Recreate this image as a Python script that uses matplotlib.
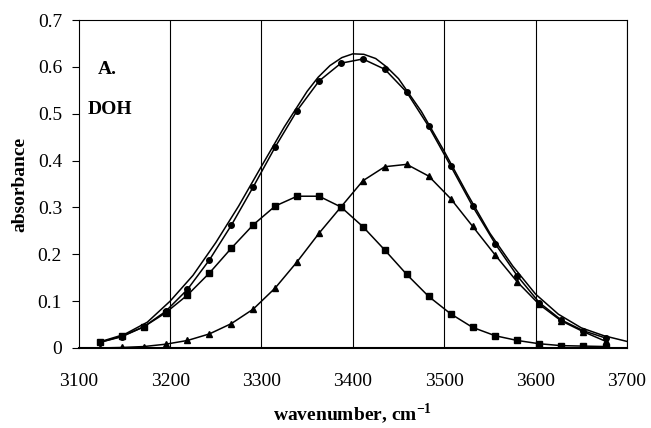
import matplotlib
matplotlib.use("Agg")
import matplotlib.pyplot as plt

plt.rcParams['font.family'] = ['Liberation Serif', 'DejaVu Serif']
plt.rcParams['mathtext.fontset'] = 'custom'
plt.rcParams['mathtext.rm'] = 'Liberation Serif'
plt.rcParams['mathtext.bf'] = 'Liberation Serif:bold'

# wavenumbers of the marked points (cm-1)
wn_marks = [3123, 3147, 3171, 3195, 3219, 3243, 3267, 3291, 3315, 3339, 3363, 3387,
            3411, 3435, 3459, 3483, 3507, 3531, 3556, 3580, 3604, 3628, 3652, 3677]

# circles: fitted total
circles = [0.012, 0.024, 0.045, 0.078, 0.125, 0.188, 0.262, 0.344, 0.429, 0.507, 0.570, 0.608,
           0.617, 0.595, 0.546, 0.473, 0.389, 0.303, 0.222, 0.154, 0.097, 0.060, 0.037, 0.021]

# squares: low-frequency component
squares = [0.012, 0.025, 0.045, 0.075, 0.113, 0.160, 0.213, 0.263, 0.303, 0.324, 0.324, 0.301,
           0.259, 0.209, 0.157, 0.110, 0.073, 0.044, 0.026, 0.016, 0.009, 0.005, 0.004, 0.003]

# triangles: high-frequency component
triangles = [0.000, 0.001, 0.003, 0.008, 0.016, 0.030, 0.052, 0.083, 0.128, 0.184, 0.245, 0.301,
             0.357, 0.387, 0.392, 0.367, 0.319, 0.260, 0.198, 0.141, 0.093, 0.058, 0.035, 0.014]

# measured spectrum (plain line)
wn_meas = [3123, 3150, 3175, 3200, 3225, 3250, 3275, 3300, 3325, 3350, 3362, 3375, 3388, 3400,
           3412, 3425, 3437, 3450, 3475, 3500, 3525, 3550, 3575, 3600, 3625, 3650, 3675, 3700]
measured = [0.013, 0.029, 0.055, 0.100, 0.155, 0.225, 0.303, 0.388, 0.472, 0.548, 0.578, 0.603,
            0.620, 0.628, 0.627, 0.618, 0.600, 0.575, 0.505, 0.420, 0.330, 0.245, 0.175, 0.115,
            0.072, 0.043, 0.026, 0.014]

x_ticks = [3100, 3200, 3300, 3400, 3500, 3600, 3700]
y_ticks = [0, 0.1, 0.2, 0.3, 0.4, 0.5, 0.6, 0.7]
y_labels = ['0', '0.1', '0.2', '0.3', '0.4', '0.5', '0.6', '0.7']

fig = plt.figure(figsize=(6.51, 4.28), dpi=100)
ax = fig.add_axes([0.121, 0.187, 0.842, 0.766])

for x in x_ticks[1:]:
    ax.axvline(x, color='black', lw=0.8, zorder=1)

ax.plot(wn_meas, measured, color='black', lw=1.1, zorder=3)
ax.plot(wn_marks, circles, color='black', lw=1.1, marker='o', ms=4, zorder=4)
ax.plot(wn_marks, squares, color='black', lw=1.1, marker='s', ms=4.5, zorder=4)
ax.plot(wn_marks, triangles, color='black', lw=1.1, marker='^', ms=4.5, zorder=4)

ax.set_xlim(3100, 3700)
ax.set_ylim(0, 0.7)
ax.set_xticks(x_ticks)
ax.set_yticks(y_ticks)
ax.set_yticklabels(y_labels)
ax.tick_params(axis='x', length=0, pad=18, labelsize=14)
ax.tick_params(axis='y', direction='out', length=5, width=0.8, pad=7, labelsize=14)
for s in ax.spines.values():
    s.set_linewidth(0.8)
ax.spines['bottom'].set_linewidth(1.5)

ax.set_xlabel('wavenumber, cm$^{\\mathbf{-1}}$', fontsize=14, fontweight='bold')
ax.set_ylabel('absorbance', fontsize=14, fontweight='bold')
ax.xaxis.set_label_coords(0.5, -0.165)
ax.yaxis.set_label_coords(-0.092, 0.5)

ax.text(3121, 0.595, 'A.', fontsize=14, fontweight='bold', va='center')
ax.text(3110, 0.51, 'DOH', fontsize=14, fontweight='bold', va='center')

fig.savefig('out.png', dpi=100)
